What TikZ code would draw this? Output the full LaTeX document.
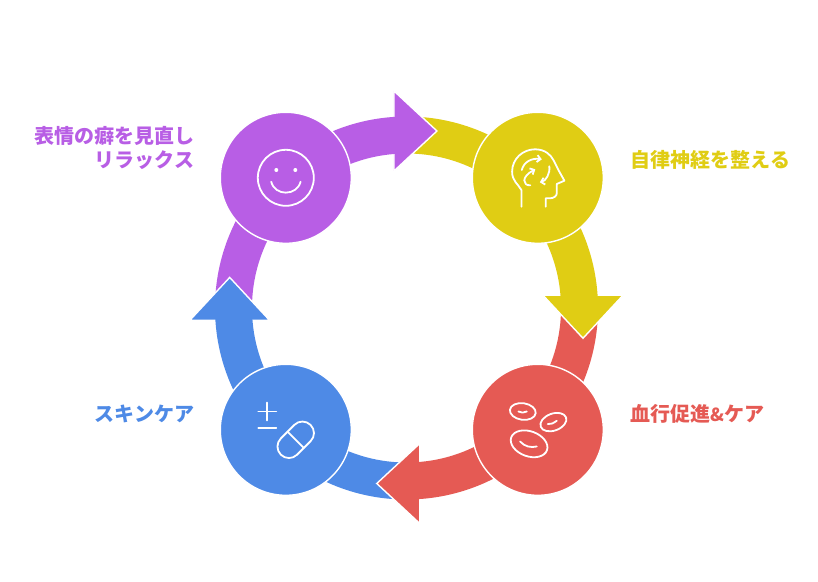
\documentclass[tikz,border=0pt]{standalone}
\usepackage{fontspec}
\setmainfont{Noto Sans CJK JP}
\usepackage{xcolor}
\usepackage{tikz}
\usetikzlibrary{shapes.geometric, arrows.meta}

\definecolor{relaxcolor}{HTML}{B85EE5}
\definecolor{nervecolor}{HTML}{E0CD14}
\definecolor{bloodcolor}{HTML}{E55A54}
\definecolor{skincolor}{HTML}{4E8AE6}

\tikzset{
    stepcircle/.style={draw=white, line width=1.4pt, circle, minimum size=131pt, inner sep=0pt},
    band/.style={line width=37pt, looseness=0.89},
    arrowhead/.style={draw=white, line width=1.4pt, isosceles triangle, isosceles triangle apex angle=84,
        isosceles triangle stretches, minimum height=43pt, minimum width=80pt, inner sep=0pt, anchor=apex},
    steplabel/.style={font=\fontsize{20}{24}\selectfont\bfseries, inner sep=0pt},
    iconline/.style={draw=white, line width=1.8pt, line cap=round, line join=round}
}

\begin{document}
\begin{tikzpicture}[x=1pt, y=1pt, node distance=252pt]
    \useasboundingbox (0,0) rectangle (818,581);

    % Nodes
    \node (relax) [stepcircle, fill=relaxcolor] at (285.8,403.2) {};
    \node (nerve) [stepcircle, fill=nervecolor, right of=relax] {};
    \node (blood) [stepcircle, fill=bloodcolor, below of=nerve] {};
    \node (skin) [stepcircle, fill=skincolor, left of=blood] {};

    % Points on the ring
    \coordinate (ring) at (406.5,273);
    \coordinate (relaxtail) at ([shift={(184:173)}]ring);
    \coordinate (relaxmid) at ([shift={(139:173)}]ring);
    \coordinate (relaxend) at ([shift={(93:173)}]ring);
    \coordinate (nervetail) at ([shift={(94:173)}]ring);
    \coordinate (nervemid) at ([shift={(49:173)}]ring);
    \coordinate (nerveend) at ([shift={(3:173)}]ring);
    \coordinate (bloodtail) at ([shift={(4:173)}]ring);
    \coordinate (bloodmid) at ([shift={(-41:173)}]ring);
    \coordinate (bloodend) at ([shift={(-87:173)}]ring);
    \coordinate (skintail) at ([shift={(-86:173)}]ring);
    \coordinate (skinmid) at ([shift={(-131:173)}]ring);
    \coordinate (skinend) at ([shift={(-177:173)}]ring);

    % Tails, under the heads
    \draw[band, relaxcolor] (relaxtail) to[bend left=22.5] (relaxmid);
    \draw[band, nervecolor] (nervetail) to[bend left=22.5] (nervemid);
    \draw[band, bloodcolor] (bloodtail) to[bend left=22.5] (bloodmid);
    \draw[band, skincolor] (skintail) to[bend left=22.5] (skinmid);

    % Heads
    \node (relaxhead) [arrowhead, fill=relaxcolor] at (438,450) {};
    \node (nervehead) [arrowhead, fill=nervecolor, rotate=-90] at (583,241.7) {};
    \node (bloodhead) [arrowhead, fill=bloodcolor, rotate=180] at (375.7,97.5) {};
    \node (skinhead) [arrowhead, fill=skincolor, rotate=90] at (229.7,304.6) {};

    % Bands into the heads
    \draw[band, relaxcolor] (relaxmid) to[bend left=23] (relaxend);
    \draw[band, nervecolor] (nervemid) to[bend left=23] (nerveend);
    \draw[band, bloodcolor] (bloodmid) to[bend left=23] (bloodend);
    \draw[band, skincolor] (skinmid) to[bend left=23] (skinend);

    % Circles again, over the bands
    \node (relaxtop) [stepcircle, fill=relaxcolor] at (relax) {};
    \node (nervetop) [stepcircle, fill=nervecolor] at (nerve) {};
    \node (bloodtop) [stepcircle, fill=bloodcolor] at (blood) {};
    \node (skintop) [stepcircle, fill=skincolor] at (skin) {};

    % Labels
    \node (relaxlabel) [steplabel, relaxcolor, anchor=east, align=right] at (194.5,433) {表情の癖を見直し\\リラックス};
    \node (nervelabel) [steplabel, nervecolor, anchor=west] at (630.5,421) {自律神経を整える};
    \node (bloodlabel) [steplabel, bloodcolor, anchor=west] at (630,167) {血行促進{\fontsize{18}{24}\selectfont\&}ケア};
    \node (skinlabel) [steplabel, skincolor, anchor=east] at (194.5,167) {スキンケア};

    % Smiley
    \begin{scope}[shift={(relax.center)}]
        \draw[iconline] (0,0) circle (28);
        \fill[white] (-9.5,7.8) circle (2);
        \fill[white] (9.5,7.8) circle (2);
        \draw[iconline] (-14.6,-3.9) .. controls (-11,-18.5) and (11,-18.5) .. (14.8,-3.9);
    \end{scope}

    % Head
    \begin{scope}[shift={(nerve.center)}]
        \draw[iconline] (-16.4,-28.9) -- (-16.4,-12.2)
            .. controls (-20,-6) and (-25.7,-3) .. (-25.7,6.1)
            .. controls (-25.7,19) and (-15,28.5) .. (-2.7,28.5)
            .. controls (7,28.5) and (13,23) .. (15.6,17.8)
            .. controls (18,13) and (19,11) .. (20.6,7.8)
            -- (26.6,-2.9) -- (19,-6.2) -- (19,-15.5)
            .. controls (19,-18) and (16,-20.5) .. (12.3,-20.5)
            -- (8,-20.5) -- (8,-28.9);
        \draw[iconline, -{Straight Barb[length=3.5pt, width=7pt]}] (-16,7.8) .. controls (-14,16) and (-6,20) .. (4,18.5);
        \draw[iconline, -{Straight Barb[length=3.5pt, width=7pt]}] (11.5,11.5) .. controls (12.5,4) and (8,-3) .. (2,-4.5);
        \draw[iconline, -{Straight Barb[length=3.5pt, width=7pt]}] (-7.5,-7.5) .. controls (-15,-8) and (-17,1) .. (-2.5,8.5);
    \end{scope}

    % Cells
    \begin{scope}[shift={(blood.center)}]
        \draw[iconline] (-15,18.3) ellipse [x radius=13, y radius=8.3, rotate=-8];
        \draw[iconline] (15.6,7.7) ellipse [x radius=13.5, y radius=8.5, rotate=20];
        \draw[iconline] (-8.7,-14) ellipse [x radius=19, y radius=12.5, rotate=-20];
        \draw[iconline] (-19.4,18.3) .. controls (-17,16.8) and (-13.5,16.8) .. (-11,18.3);
        \draw[iconline] (10,5.7) .. controls (13,5.5) and (16.5,6.5) .. (19,9);
        \draw[iconline] (-17.7,-11.7) .. controls (-13,-17) and (-7,-18) .. (-1,-16.7);
    \end{scope}

    % Plus, minus and pill
    \begin{scope}[shift={(skin.center)}]
        \draw[iconline] (-27.5,18.3) -- (-9.5,18.3);
        \draw[iconline] (-18.5,9.3) -- (-18.5,27.3);
        \draw[iconline] (-27.5,1.7) -- (-9.5,1.7);
        \draw[iconline, rotate around={45:(9.9,-10)}, rounded corners=11.4] (-11.1,-21.5) rectangle (30.9,1.5);
        \draw[iconline, rotate around={45:(9.9,-10)}] (9.9,-21.5) -- (9.9,1.5);
    \end{scope}
\end{tikzpicture}
\end{document}
